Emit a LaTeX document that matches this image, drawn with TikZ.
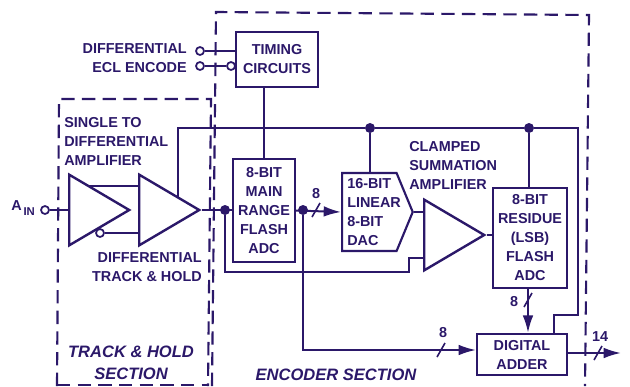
\documentclass[tikz,border=0pt]{standalone}
\usepackage{fontspec}
\setmainfont{Liberation Sans}
\usepackage{xcolor}
\usetikzlibrary{arrows.meta,positioning,shapes.geometric,shapes.symbols,calc}
\definecolor{ADCInk}{HTML}{2B1869}

\begin{document}
\begin{tikzpicture}[
  x=0.75pt,y=-0.75pt,
  wire/.style={draw=ADCInk,line width=1.5pt},
  busarrow/.style={wire,-{Latex[length=13pt,width=8pt]}},
  section/.style={draw=ADCInk,line width=1.6pt,dash pattern=on 10pt off 5.5pt},
  block/.style={draw=ADCInk,line width=1.6pt,fill=white,inner sep=0pt,text=ADCInk,align=center,font=\bfseries\fontsize{10.8}{14.25}\selectfont},
  amp/.style={draw=ADCInk,line width=1.8pt,fill=white,isosceles triangle,isosceles triangle stretches,shape border rotate=0,inner sep=0pt,minimum width=53pt,minimum height=45pt,anchor=lower side},
  lbl/.style={text=ADCInk,inner sep=0pt,font=\bfseries\fontsize{10.8}{14.25}\selectfont},
  sect/.style={text=ADCInk,inner sep=0pt,align=center,font=\bfseries\itshape\fontsize{12.4}{16.5}\selectfont},
  pin/.style={circle,draw=ADCInk,line width=1.3pt,fill=white,minimum size=6pt,inner sep=0pt},
  junction/.style={circle,fill=ADCInk,minimum size=7.5pt,inner sep=0pt}
]
\useasboundingbox (0,0) rectangle (630,386);

% section outlines
\draw[section] (212,386) -- (216,12) -- (589,15) -- (585,386);
\draw[section] (57,386) -- (59,99) -- (211,99) -- (208,386);
\draw[section] (57,385) -- (208,385);

% blocks
\node[block,minimum width=61.5pt,minimum height=41pt] (timing) at (277,59.5) {TIMING\\CIRCUITS};
\node[block,minimum width=46.5pt,minimum height=77pt] (mainadc) at (264,210.5) {8-BIT\\MAIN\\RANGE\\FLASH\\ADC};
\node[block,signal,signal to=east,signal pointer angle=135,minimum width=53pt,minimum height=58.5pt,anchor=west] (dac) at (341,212) {};
\node[lbl,align=left,anchor=west] (daclbl) at (347,212) {16-BIT\\LINEAR\\8-BIT\\DAC};
\node[block,minimum width=55.5pt,minimum height=75pt] (resadc) at (530,238) {8-BIT\\RESIDUE\\(LSB)\\FLASH\\ADC};
\node[block,minimum width=67.5pt,minimum height=31pt] (adder) at (522,354.5) {DIGITAL\\ADDER};

% amplifiers
\node[amp] (amp1) at (68,210) {};
\node[amp] (amp2) at (138,210) {};
\node[amp] (amp3) at (423,235) {};

% pins and junctions
\node[pin] (diffpin) at (200,51) {};
\node[pin] (eclpin) at (200,66) {};
\node[pin] (eclbub) at (231,66) {};
\node[pin] (ainpin) at (45,210) {};
\node[pin] (invbub) at (100,233) {};
\node[junction] (inj) at (225,210) {};
\node[junction] (msbj) at (303,210) {};
\node[junction] (dacj) at (370,128) {};
\node[junction] (resj) at (529,128) {};
\coordinate (ampbus) at (178,197);
\coordinate (topin) at (88,186);
\coordinate (slasha) at (316,210);
\coordinate (slashb) at (441,350);
\coordinate (slashc) at (528,300);
\coordinate (slashd) at (598,353);
\coordinate (outend) at (621,353);

% connectors
\draw[wire] (diffpin) -- (timing.west |- diffpin);
\draw[wire] (eclpin) -- (eclbub);
\draw[wire] (ainpin) -- (amp1.lower side);
\draw[wire] (topin) -- (topin -| amp2.lower side);
\draw[wire] (invbub) -- (invbub -| amp2.lower side);
\draw[wire] (amp2.apex) -- (amp2.apex -| mainadc.west);
\draw[wire] (mainadc.north) -- (mainadc.north |- timing.south);
\draw[wire] (ampbus) |- (dacj) -- (resj) -- (578,128) -- (578,315) -- (554,315) -- (adder.north -| 554,0);
\draw[wire] (dacj) -- (dacj |- dac.north);
\draw[wire] (resj) -- (resj |- resadc.north);
\draw[wire] (inj) |- (409,272) |- (423,258);
\draw[wire] (dac.east) -- (dac.east -| amp3.lower side);
\draw[wire] (amp3.apex) -- (amp3.apex -| resadc.west);
\draw[busarrow] (mainadc.east) -- (dac.west);
\draw[busarrow] (msbj) |- (adder.west |- slashb);
\draw[busarrow] (resadc.south -| slashc) -- (adder.north -| slashc);
\draw[busarrow] (adder.east |- outend) -- (outend);
\foreach \s in {slasha,slashb,slashc,slashd}
  \draw[wire,line width=1.2pt] ([shift={(-4,7)}]\s) -- ([shift={(4,-7)}]\s);

% labels
\node[lbl,anchor=east] (difflbl) at (187,49) {DIFFERENTIAL};
\node[lbl,anchor=east] (ecllbl) at (187,68) {ECL ENCODE};
\node[lbl,anchor=west] (ainlbl) at (11,208) {A\raisebox{-3.5pt}{\fontsize{8.5}{10}\selectfont\,IN}};
\node[lbl,anchor=north west,align=left] (singlelbl) at (64,117) {SINGLE TO\\DIFFERENTIAL\\AMPLIFIER};
\node[lbl,anchor=north east,align=right] (tracklbl) at (202,252) {DIFFERENTIAL\\TRACK \& HOLD};
\node[lbl,anchor=north west,align=left] (clamplbl) at (409,141) {CLAMPED\\SUMMATION\\AMPLIFIER};
\node[lbl] (eighta) at (316,194) {8};
\node[lbl] (eightb) at (443,333) {8};
\node[lbl] (eightc) at (514,302) {8};
\node[lbl] (fourteen) at (600,337) {14};
\node[sect] (tracksect) at (131,363) {TRACK \& HOLD\\SECTION};
\node[sect] (encsect) at (336,375) {ENCODER SECTION};
\end{tikzpicture}
\end{document}
